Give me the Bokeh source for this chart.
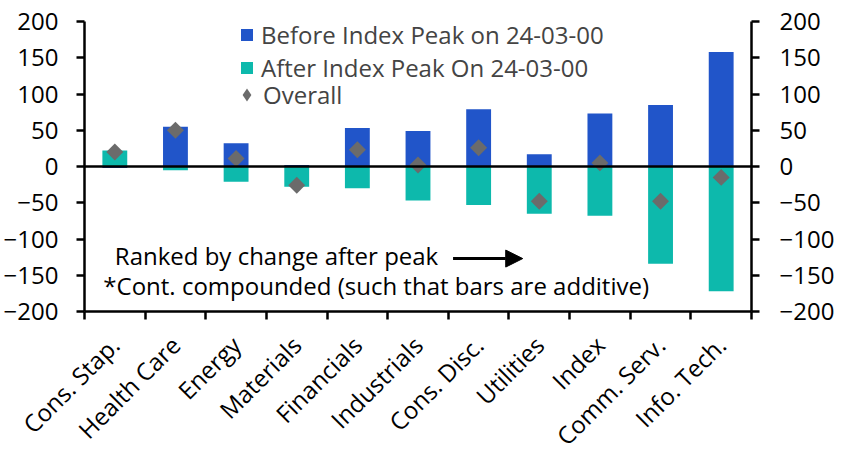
import math
from bokeh.plotting import figure
from bokeh.models import (FixedTicker, LinearAxis, Span, Legend, LegendItem,
                          Label, Arrow, NormalHead, Range1d)
from bokeh.embed import file_html
from bokeh.resources import INLINE

categories = ["Cons. Stap.", "Health Care", "Energy", "Materials", "Financials",
              "Industrials", "Cons. Disc.", "Utilities", "Index", "Comm. Serv.",
              "Info. Tech."]
before_peak = [-2, 55, 32, 2, 53, 49, 79, 17, 73, 85, 158]
after_peak = [22, -5, -21, -28, -30, -47, -53, -65, -68, -134, -172]
overall = [20, 50, 11, -26, 23, 2, 26, -48, 5, -48, -15]
y_ticks = [-200, -150, -100, -50, 0, 50, 100, 150, 200]

BLUE = "#2155C9"
TEAL = "#0DB9AC"
GREY = "#6B6B6B"
FONT = "Open Sans"
FS = "24px"

xs = list(range(len(categories)))

p = figure(width=837, height=466, output_backend="svg", toolbar_location=None,
           x_range=Range1d(-0.5, len(categories) - 0.5), y_range=Range1d(-200, 200),
           min_border_left=73, min_border_right=78, min_border_top=21,
           min_border_bottom=155)
p.outline_line_color = None
p.xgrid.grid_line_color = None
p.ygrid.grid_line_color = None
p.background_fill_color = "white"
p.border_fill_color = "white"

r_before = p.vbar(x=xs, top=before_peak, bottom=0, width=0.41, fill_color=BLUE, line_color=None)
r_after = p.vbar(x=xs, top=after_peak, bottom=0, width=0.41, fill_color=TEAL, line_color=None)
p.add_layout(Span(location=0, dimension="width", line_color="black", line_width=2.5))
# legend proxy (hidden beneath the rotated squares)
r_legend = p.scatter(x=xs, y=overall, marker="diamond", size=11, fill_color=GREY, line_color=None)
p.scatter(x=xs, y=overall, marker="square", size=12, angle=math.pi / 4,
          fill_color=GREY, line_color=None)

# x axis
xa = p.xaxis[0]
xa.ticker = FixedTicker(ticks=xs, minor_ticks=[i - 0.5 for i in range(len(categories) + 1)])
xa.major_label_overrides = {i: c for i, c in enumerate(categories)}
xa.major_label_orientation = math.pi / 4
xa.major_tick_line_color = None
xa.major_tick_out = 0
xa.major_tick_in = 0
xa.minor_tick_line_color = "black"
xa.minor_tick_line_width = 2.5
xa.minor_tick_out = 8
xa.minor_tick_in = 0
xa.axis_line_color = "black"
xa.axis_line_width = 2.5
xa.major_label_text_font = FONT
xa.major_label_text_font_size = FS
xa.major_label_text_color = "black"
xa.major_label_standoff = 21

def style_y(ax, standoff):
    ax.ticker = FixedTicker(ticks=y_ticks, minor_ticks=[])
    ax.axis_line_color = "black"
    ax.axis_line_width = 2.5
    ax.major_tick_line_color = "black"
    ax.major_tick_line_width = 2.5
    ax.major_tick_out = 8
    ax.major_tick_in = 0
    ax.minor_tick_line_color = None
    ax.major_label_text_font = FONT
    ax.major_label_text_font_size = FS
    ax.major_label_text_color = "black"
    ax.major_label_standoff = standoff

style_y(p.yaxis[0], 18)
ra = LinearAxis()
style_y(ra, 20)
p.add_layout(ra, "right")

# legends
leg1 = Legend(items=[LegendItem(label="Before Index Peak on 24-03-00", renderers=[r_before]),
                     LegendItem(label="After Index Peak On 24-03-00", renderers=[r_after])],
              location=(155, 227), glyph_width=15, glyph_height=15, spacing=-3, padding=0,
              margin=0, label_standoff=7, border_line_color=None, background_fill_alpha=0,
              label_text_font=FONT, label_text_font_size=FS)
leg2 = Legend(items=[LegendItem(label="Overall", renderers=[r_legend])],
              location=(146, 200), glyph_width=33, glyph_height=33, spacing=0, padding=0,
              margin=0, label_standoff=0, border_line_color=None, background_fill_alpha=0,
              label_text_font=FONT, label_text_font_size=FS)
p.add_layout(leg1, "center")
p.add_layout(leg2, "center")

# annotations
p.add_layout(Label(x=0.0, y=-122.5, text="Ranked by change after peak",
                   text_font=FONT, text_font_size=FS, text_color="black",
                   text_baseline="middle"))
p.add_layout(Label(x=-0.19, y=-164, text="*Cont. compounded (such that bars are additive)",
                   text_font=FONT, text_font_size=FS, text_color="black",
                   text_baseline="middle"))
p.add_layout(Arrow(x_start=5.578, y_start=-127, x_end=6.727, y_end=-127,
                   line_color="black", line_width=3,
                   end=NormalHead(size=17, fill_color="black", line_color="black", line_width=1)))

open("out.html", "w").write(file_html(p, INLINE))
